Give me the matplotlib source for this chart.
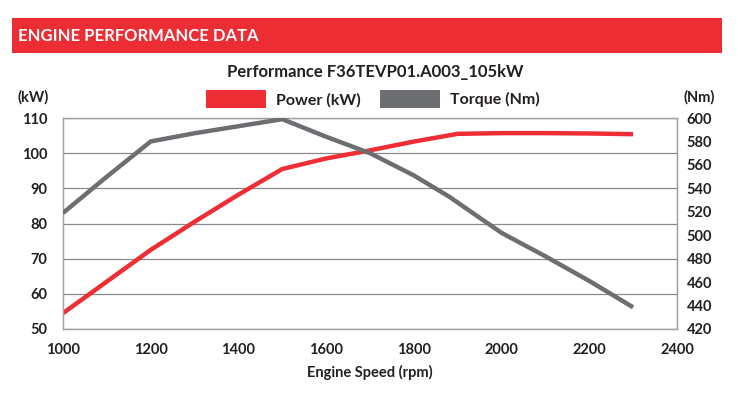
import matplotlib
matplotlib.use("Agg")
import matplotlib.pyplot as plt
from matplotlib.patches import Rectangle, Patch

plt.rcParams['font.family'] = ['Lato', 'DejaVu Sans']

# data
rpm_power = [1000, 1100, 1200, 1300, 1400, 1500, 1600, 1700, 1800, 1900, 2000, 2100, 2200, 2300]
power_kw = [54.5, 63.5, 72.5, 80.5, 88.2, 95.5, 98.5, 100.8, 103.3, 105.5, 105.7, 105.7, 105.6, 105.4]
rpm_torque = [1000, 1100, 1200, 1300, 1400, 1500, 1600, 1700, 1800, 1880, 2000, 2100, 2200, 2300]
torque_nm = [519, 550, 580, 587, 593, 599, 584, 570, 551, 533, 502, 482, 461, 438.5]

x_ticks = [1000, 1200, 1400, 1600, 1800, 2000, 2200, 2400]
kw_ticks = [50, 60, 70, 80, 90, 100, 110]
nm_ticks = [420, 440, 460, 480, 500, 520, 540, 560, 580, 600]

red = '#ee2e34'
grey = '#6d6e71'
txt = '#231f20'

fig = plt.figure(figsize=(7.38, 3.96), dpi=100)

# header banner
fig.patches.append(Rectangle((0.0163, 0.866), 0.9617, 0.0885, transform=fig.transFigure,
                             facecolor='#ec2d34', edgecolor='none'))
fig.text(0.024, 0.910, 'ENGINE PERFORMANCE DATA', color='white', fontsize=12,
         fontweight='bold', va='center', ha='left')
fig.text(0.509, 0.818, 'Performance F36TEVP01.A003_105kW', color=txt, fontsize=12,
         fontweight='bold', va='center', ha='center')

ax = fig.add_axes([0.0854, 0.1692, 0.8319, 0.5328])
ax2 = ax.twinx()

ax.plot(rpm_power, power_kw, color=red, lw=3.2, solid_capstyle='butt', zorder=3)
ax2.plot(rpm_torque, torque_nm, color=grey, lw=3.2, solid_capstyle='butt', zorder=3)

ax.set_xlim(1000, 2400)
ax.set_ylim(50, 110)
ax2.set_ylim(420, 600)
ax.set_xticks(x_ticks)
ax.set_yticks(kw_ticks)
ax2.set_yticks(nm_ticks)

ax.grid(axis='y', color='#8a8a8a', lw=0.9)
ax.set_axisbelow(True)
for a in (ax, ax2):
    for s in a.spines.values():
        s.set_color('#a0a0a0')
        s.set_linewidth(0.9)
    a.tick_params(length=0, labelsize=10.5, colors=txt)
    for lab in a.get_xticklabels() + a.get_yticklabels():
        lab.set_fontweight('bold')
ax.tick_params(axis='y', pad=11)
ax2.tick_params(axis='y', pad=7)
ax.tick_params(axis='x', pad=10)

ax.set_xlabel('Engine Speed (rpm)', fontsize=10.5, fontweight='bold', color=txt, labelpad=6)

fig.text(0.045, 0.755, '(kW)', fontsize=10.5, fontweight='bold', color=txt, ha='center', va='center')
fig.text(0.948, 0.755, '(Nm)', fontsize=10.5, fontweight='bold', color=txt, ha='center', va='center')

handles = [Patch(facecolor=red, edgecolor='none', label='Power (kW)'),
           Patch(facecolor=grey, edgecolor='none', label='Torque (Nm)')]
leg = fig.legend(handles=handles, loc='center', bbox_to_anchor=(0.505, 0.750), ncol=2,
                 frameon=False, fontsize=11.5, handlelength=3.8, handleheight=1.3,
                 columnspacing=1.2, handletextpad=0.6)
for t in leg.get_texts():
    t.set_fontweight('bold')
    t.set_color(txt)

fig.savefig('out.png', dpi=100)
